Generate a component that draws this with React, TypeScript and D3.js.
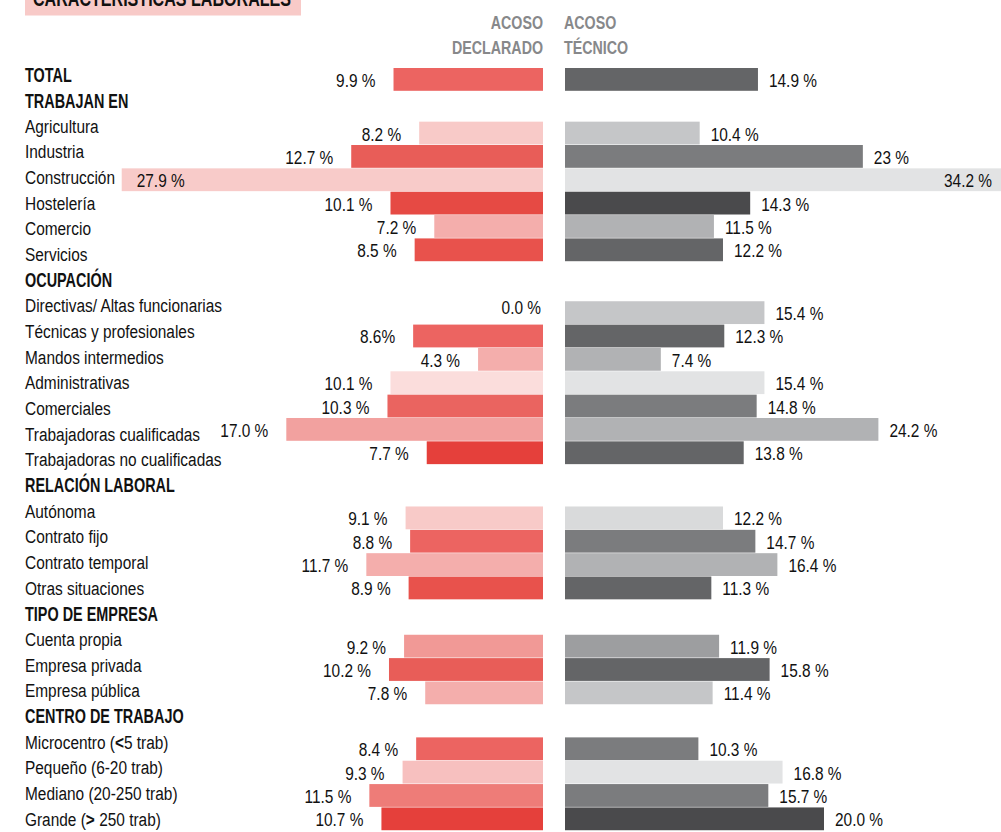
import React from "react";
import * as d3 from "d3";

// ---------- DATA ----------
const titleText = "CARACTERÍSTICAS LABORALES";
const headerDeclarado = ["ACOSO", "DECLARADO"];
const headerTecnico = ["ACOSO", "TÉCNICO"];

const totalLabel = "TOTAL";
const totalDeclarado = 9.9;
const totalTecnico = 14.9;
const totalDeclaradoText = "9.9 %";
const totalTecnicoText = "14.9 %";

const groupNames = ["TRABAJAN EN", "OCUPACIÓN", "RELACIÓN LABORAL", "TIPO DE EMPRESA", "CENTRO DE TRABAJO"];
const groupCategories = [
  ["Agricultura", "Industria", "Construcción", "Hostelería", "Comercio", "Servicios"],
  ["Directivas/ Altas funcionarias", "Técnicas y profesionales", "Mandos intermedios", "Administrativas", "Comerciales", "Trabajadoras cualificadas", "Trabajadoras no cualificadas"],
  ["Autónoma", "Contrato fijo", "Contrato temporal", "Otras situaciones"],
  ["Cuenta propia", "Empresa privada", "Empresa pública"],
  ["Microcentro (<5 trab)", "Pequeño (6-20 trab)", "Mediano (20-250 trab)", "Grande (> 250 trab)"],
];
const declarado = [
  [8.2, 12.7, 27.9, 10.1, 7.2, 8.5],
  [0.0, 8.6, 4.3, 10.1, 10.3, 17.0, 7.7],
  [9.1, 8.8, 11.7, 8.9],
  [9.2, 10.2, 7.8],
  [8.4, 9.3, 11.5, 10.7],
];
const tecnico = [
  [10.4, 23, 34.2, 14.3, 11.5, 12.2],
  [15.4, 12.3, 7.4, 15.4, 14.8, 24.2, 13.8],
  [12.2, 14.7, 16.4, 11.3],
  [11.9, 15.8, 11.4],
  [10.3, 16.8, 15.7, 20.0],
];
const declaradoText = [
  ["8.2 %", "12.7 %", "27.9 %", "10.1 %", "7.2 %", "8.5 %"],
  ["0.0 %", "8.6%", "4.3 %", "10.1 %", "10.3 %", "17.0 %", "7.7 %"],
  ["9.1 %", "8.8 %", "11.7 %", "8.9 %"],
  ["9.2 %", "10.2 %", "7.8 %"],
  ["8.4 %", "9.3 %", "11.5 %", "10.7 %"],
];
const tecnicoText = [
  ["10.4 %", "23 %", "34.2 %", "14.3 %", "11.5 %", "12.2 %"],
  ["15.4 %", "12.3 %", "7.4 %", "15.4 %", "14.8 %", "24.2 %", "13.8 %"],
  ["12.2 %", "14.7 %", "16.4 %", "11.3 %"],
  ["11.9 %", "15.8 %", "11.4 %"],
  ["10.3 %", "16.8 %", "15.7 %", "20.0 %"],
];

// ---------- STYLES ----------
const totalRed = "#ec6461";
const totalGrey = "#646567";
const redColors = [
  ["#f8cac8", "#e85d58", "#f8cbc9", "#e64a44", "#f4aeac", "#e8524c"],
  ["#ec6461", "#ec6461", "#f4aeac", "#fbdddc", "#ea6460", "#f2a19f", "#e5403b"],
  ["#f8cac8", "#ec6461", "#f4aeac", "#e8524c"],
  ["#f19996", "#e85d58", "#f4aeac"],
  ["#ec6461", "#f7c0bf", "#ee7c78", "#e5403b"],
];
const greyColors = [
  ["#c5c6c8", "#7b7c7e", "#e2e3e4", "#4a4a4c", "#b1b2b4", "#646567"],
  ["#c5c6c8", "#646567", "#b1b2b4", "#e2e3e4", "#7b7c7e", "#b1b2b4", "#646567"],
  ["#d9dadb", "#7b7c7e", "#b1b2b4", "#646567"],
  ["#9d9ea0", "#646567", "#c5c6c8"],
  ["#7b7c7e", "#e2e3e4", "#7b7c7e", "#4a4a4c"],
];

const W = 1001;
const H = 832;
const FONT = "'Liberation Sans', Arial, sans-serif";
const LABEL_SIZE = 18;
const LABEL_SX = 0.857;
const BOLD_SIZE = 19.5;
const BOLD_SX = 0.74;
const BAR_STEP = 23.35;
const BAR_H = 22.8;

function richLabel(s: string) {
  const parts = s.split(/([<>])/);
  return parts.map((p, i) =>
    p === "<" || p === ">" ? (
      <tspan key={i} fontWeight="bold">{p}</tspan>
    ) : (
      <tspan key={i}>{p}</tspan>
    )
  );
}

function CText(props: {
  x: number;
  y: number;
  sx: number;
  size: number;
  bold?: boolean;
  anchor?: "start" | "end" | "middle";
  fill?: string;
  children: React.ReactNode;
}) {
  const { x, y, sx, size, bold, anchor, fill, children } = props;
  return (
    <text
      transform={`translate(${x},${y}) scale(${sx},1)`}
      x={0}
      y={0}
      fontSize={size}
      fontWeight={bold ? "bold" : "normal"}
      textAnchor={anchor || "start"}
      fill={fill || "#111"}
    >
      {children}
    </text>
  );
}

export default function App() {
  const nRows = 1 + groupNames.reduce((a, g, i) => a + 1 + groupCategories[i].length, 0);
  const rowY = d3.scaleLinear().domain([0, nRows - 1]).range([75, 819]);
  const xL = d3.scaleLinear().domain([0, 30]).range([543, 543 - 15.1 * 30]);
  const xR = d3.scaleLinear().domain([0, 30]).range([565, 565 + 12.95 * 30]);

  type Bar = { y: number; vL: number; vR: number; tL: string; tR: string; cL: string; cR: string };
  const labels: { y: number; text: string; bold: boolean }[] = [];
  const bars: Bar[] = [];

  labels.push({ y: rowY(0), text: totalLabel, bold: true });
  bars.push({ y: rowY(0) - 7, vL: totalDeclarado, vR: totalTecnico, tL: totalDeclaradoText, tR: totalTecnicoText, cL: totalRed, cR: totalGrey });

  let idx = 1;
  groupNames.forEach((g, gi) => {
    const hy = rowY(idx);
    labels.push({ y: hy, text: g, bold: true });
    idx++;
    groupCategories[gi].forEach((c, ci) => {
      labels.push({ y: rowY(idx), text: c, bold: false });
      idx++;
      bars.push({
        y: hy + 21 + ci * BAR_STEP,
        vL: declarado[gi][ci],
        vR: tecnico[gi][ci],
        tL: declaradoText[gi][ci],
        tR: tecnicoText[gi][ci],
        cL: redColors[gi][ci],
        cR: greyColors[gi][ci],
      });
    });
  });

  return (
    <svg
      width={W}
      height={H}
      style={{ position: "absolute", left: 0, top: 0, background: "#fff" }}
      fontFamily={FONT}
    >
      {/* title box */}
      <rect x={25} y={-5} width={276} height={20.5} fill="#f8cac8" />
      <text x={33} y={6} fontSize={22} fontWeight="bold" fill="#111" textLength={258} lengthAdjust="spacingAndGlyphs">
        {titleText}
      </text>

      {/* column headers */}
      {headerDeclarado.map((t, i) => (
        <CText key={"hd" + i} x={543} y={29 + i * 25} sx={0.77} size={18.5} bold anchor="end" fill="#87888a">
          {t}
        </CText>
      ))}
      {headerTecnico.map((t, i) => (
        <CText key={"ht" + i} x={564} y={29 + i * 25} sx={0.77} size={18.5} bold anchor="start" fill="#87888a">
          {t}
        </CText>
      ))}

      {/* category labels */}
      {labels.map((l, i) => (
        <CText
          key={"l" + i}
          x={25}
          y={l.y + (l.bold ? 7 : 6.5)}
          sx={l.bold ? BOLD_SX : LABEL_SX}
          size={l.bold ? BOLD_SIZE : LABEL_SIZE}
          bold={l.bold}
        >
          {richLabel(l.text)}
        </CText>
      ))}

      {/* bars */}
      {bars.map((b, i) => {
        const x0 = xL(b.vL);
        const x1 = xR(b.vR);
        const cy = b.y + BAR_H / 2;
        const leftInside = x0 < 200;
        const rightInside = x1 + 12 + 45 > W;
        return (
          <g key={"b" + i}>
            {b.vL > 0 && <rect x={x0} y={b.y} width={xL(0) - x0} height={BAR_H} fill={b.cL} />}
            <rect x={xR(0)} y={b.y} width={x1 - xR(0)} height={BAR_H} fill={b.cR} />
            <CText
              x={b.vL === 0 ? xL(0) - 2 : leftInside ? x0 + 15 : x0 - 18}
              y={b.vL === 0 ? cy + 1 : cy + 7.5}
              sx={LABEL_SX}
              size={LABEL_SIZE}
              anchor={leftInside ? "start" : "end"}
            >
              {b.tL}
            </CText>
            <CText
              x={rightInside ? W - 9 : x1 + 11}
              y={cy + 7.5}
              sx={LABEL_SX}
              size={LABEL_SIZE}
              anchor={rightInside ? "end" : "start"}
            >
              {b.tR}
            </CText>
          </g>
        );
      })}
    </svg>
  );
}
